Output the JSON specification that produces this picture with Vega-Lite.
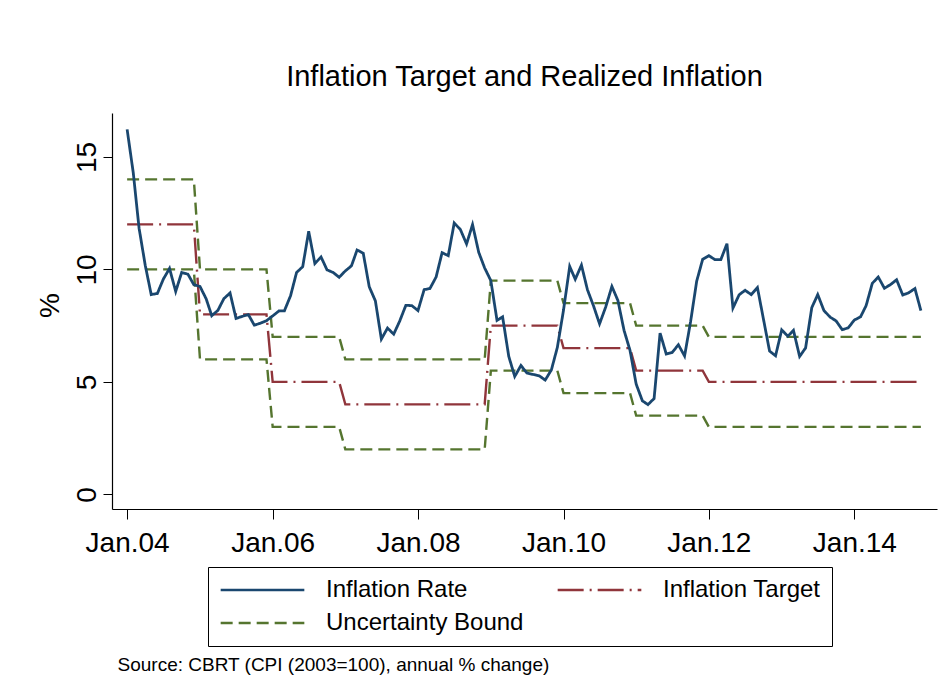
{
  "$schema": "https://vega.github.io/schema/vega-lite/v6.json",
  "width": 825,
  "height": 396,
  "autosize": {"type": "none"},
  "padding": {"left": 112, "top": 113, "right": 9, "bottom": 189},
  "background": "white",
  "config": {"font": "Liberation Sans", "view": {"stroke": null}},
  "title": {"text": "Inflation Target and Realized Inflation", "fontSize": 29, "fontWeight": "normal", "color": "black", "anchor": "middle", "frame": "group", "baseline": "alphabetic", "offset": 28, "dy": 30},
  "data": {"values": [
    {"d":"2004-01-01","v":16.22,"s":"Inflation Rate"},{"d":"2004-02-01","v":14.28,"s":"Inflation Rate"},{"d":"2004-03-01","v":11.83,"s":"Inflation Rate"},{"d":"2004-04-01","v":10.18,"s":"Inflation Rate"},{"d":"2004-05-01","v":8.88,"s":"Inflation Rate"},{"d":"2004-06-01","v":8.93,"s":"Inflation Rate"},{"d":"2004-07-01","v":9.57,"s":"Inflation Rate"},{"d":"2004-08-01","v":10.04,"s":"Inflation Rate"},{"d":"2004-09-01","v":9.02,"s":"Inflation Rate"},{"d":"2004-10-01","v":9.86,"s":"Inflation Rate"},{"d":"2004-11-01","v":9.79,"s":"Inflation Rate"},{"d":"2004-12-01","v":9.32,"s":"Inflation Rate"},
    {"d":"2005-01-01","v":9.24,"s":"Inflation Rate"},{"d":"2005-02-01","v":8.69,"s":"Inflation Rate"},{"d":"2005-03-01","v":7.94,"s":"Inflation Rate"},{"d":"2005-04-01","v":8.18,"s":"Inflation Rate"},{"d":"2005-05-01","v":8.70,"s":"Inflation Rate"},{"d":"2005-06-01","v":8.95,"s":"Inflation Rate"},{"d":"2005-07-01","v":7.82,"s":"Inflation Rate"},{"d":"2005-08-01","v":7.91,"s":"Inflation Rate"},{"d":"2005-09-01","v":7.99,"s":"Inflation Rate"},{"d":"2005-10-01","v":7.52,"s":"Inflation Rate"},{"d":"2005-11-01","v":7.61,"s":"Inflation Rate"},{"d":"2005-12-01","v":7.72,"s":"Inflation Rate"},
    {"d":"2006-01-01","v":7.93,"s":"Inflation Rate"},{"d":"2006-02-01","v":8.15,"s":"Inflation Rate"},{"d":"2006-03-01","v":8.16,"s":"Inflation Rate"},{"d":"2006-04-01","v":8.83,"s":"Inflation Rate"},{"d":"2006-05-01","v":9.86,"s":"Inflation Rate"},{"d":"2006-06-01","v":10.12,"s":"Inflation Rate"},{"d":"2006-07-01","v":11.69,"s":"Inflation Rate"},{"d":"2006-08-01","v":10.26,"s":"Inflation Rate"},{"d":"2006-09-01","v":10.55,"s":"Inflation Rate"},{"d":"2006-10-01","v":9.98,"s":"Inflation Rate"},{"d":"2006-11-01","v":9.86,"s":"Inflation Rate"},{"d":"2006-12-01","v":9.65,"s":"Inflation Rate"},
    {"d":"2007-01-01","v":9.93,"s":"Inflation Rate"},{"d":"2007-02-01","v":10.16,"s":"Inflation Rate"},{"d":"2007-03-01","v":10.86,"s":"Inflation Rate"},{"d":"2007-04-01","v":10.72,"s":"Inflation Rate"},{"d":"2007-05-01","v":9.23,"s":"Inflation Rate"},{"d":"2007-06-01","v":8.60,"s":"Inflation Rate"},{"d":"2007-07-01","v":6.90,"s":"Inflation Rate"},{"d":"2007-08-01","v":7.39,"s":"Inflation Rate"},{"d":"2007-09-01","v":7.12,"s":"Inflation Rate"},{"d":"2007-10-01","v":7.70,"s":"Inflation Rate"},{"d":"2007-11-01","v":8.40,"s":"Inflation Rate"},{"d":"2007-12-01","v":8.39,"s":"Inflation Rate"},
    {"d":"2008-01-01","v":8.17,"s":"Inflation Rate"},{"d":"2008-02-01","v":9.10,"s":"Inflation Rate"},{"d":"2008-03-01","v":9.15,"s":"Inflation Rate"},{"d":"2008-04-01","v":9.66,"s":"Inflation Rate"},{"d":"2008-05-01","v":10.74,"s":"Inflation Rate"},{"d":"2008-06-01","v":10.61,"s":"Inflation Rate"},{"d":"2008-07-01","v":12.06,"s":"Inflation Rate"},{"d":"2008-08-01","v":11.77,"s":"Inflation Rate"},{"d":"2008-09-01","v":11.13,"s":"Inflation Rate"},{"d":"2008-10-01","v":11.99,"s":"Inflation Rate"},{"d":"2008-11-01","v":10.76,"s":"Inflation Rate"},{"d":"2008-12-01","v":10.06,"s":"Inflation Rate"},
    {"d":"2009-01-01","v":9.50,"s":"Inflation Rate"},{"d":"2009-02-01","v":7.73,"s":"Inflation Rate"},{"d":"2009-03-01","v":7.89,"s":"Inflation Rate"},{"d":"2009-04-01","v":6.13,"s":"Inflation Rate"},{"d":"2009-05-01","v":5.24,"s":"Inflation Rate"},{"d":"2009-06-01","v":5.73,"s":"Inflation Rate"},{"d":"2009-07-01","v":5.39,"s":"Inflation Rate"},{"d":"2009-08-01","v":5.33,"s":"Inflation Rate"},{"d":"2009-09-01","v":5.27,"s":"Inflation Rate"},{"d":"2009-10-01","v":5.08,"s":"Inflation Rate"},{"d":"2009-11-01","v":5.53,"s":"Inflation Rate"},{"d":"2009-12-01","v":6.53,"s":"Inflation Rate"},
    {"d":"2010-01-01","v":8.19,"s":"Inflation Rate"},{"d":"2010-02-01","v":10.13,"s":"Inflation Rate"},{"d":"2010-03-01","v":9.56,"s":"Inflation Rate"},{"d":"2010-04-01","v":10.19,"s":"Inflation Rate"},{"d":"2010-05-01","v":9.10,"s":"Inflation Rate"},{"d":"2010-06-01","v":8.37,"s":"Inflation Rate"},{"d":"2010-07-01","v":7.58,"s":"Inflation Rate"},{"d":"2010-08-01","v":8.33,"s":"Inflation Rate"},{"d":"2010-09-01","v":9.24,"s":"Inflation Rate"},{"d":"2010-10-01","v":8.62,"s":"Inflation Rate"},{"d":"2010-11-01","v":7.29,"s":"Inflation Rate"},{"d":"2010-12-01","v":6.40,"s":"Inflation Rate"},
    {"d":"2011-01-01","v":4.90,"s":"Inflation Rate"},{"d":"2011-02-01","v":4.16,"s":"Inflation Rate"},{"d":"2011-03-01","v":3.99,"s":"Inflation Rate"},{"d":"2011-04-01","v":4.26,"s":"Inflation Rate"},{"d":"2011-05-01","v":7.17,"s":"Inflation Rate"},{"d":"2011-06-01","v":6.24,"s":"Inflation Rate"},{"d":"2011-07-01","v":6.31,"s":"Inflation Rate"},{"d":"2011-08-01","v":6.65,"s":"Inflation Rate"},{"d":"2011-09-01","v":6.15,"s":"Inflation Rate"},{"d":"2011-10-01","v":7.66,"s":"Inflation Rate"},{"d":"2011-11-01","v":9.48,"s":"Inflation Rate"},{"d":"2011-12-01","v":10.45,"s":"Inflation Rate"},
    {"d":"2012-01-01","v":10.61,"s":"Inflation Rate"},{"d":"2012-02-01","v":10.43,"s":"Inflation Rate"},{"d":"2012-03-01","v":10.43,"s":"Inflation Rate"},{"d":"2012-04-01","v":11.14,"s":"Inflation Rate"},{"d":"2012-05-01","v":8.28,"s":"Inflation Rate"},{"d":"2012-06-01","v":8.87,"s":"Inflation Rate"},{"d":"2012-07-01","v":9.07,"s":"Inflation Rate"},{"d":"2012-08-01","v":8.88,"s":"Inflation Rate"},{"d":"2012-09-01","v":9.19,"s":"Inflation Rate"},{"d":"2012-10-01","v":7.80,"s":"Inflation Rate"},{"d":"2012-11-01","v":6.37,"s":"Inflation Rate"},{"d":"2012-12-01","v":6.16,"s":"Inflation Rate"},
    {"d":"2013-01-01","v":7.31,"s":"Inflation Rate"},{"d":"2013-02-01","v":7.03,"s":"Inflation Rate"},{"d":"2013-03-01","v":7.29,"s":"Inflation Rate"},{"d":"2013-04-01","v":6.13,"s":"Inflation Rate"},{"d":"2013-05-01","v":6.51,"s":"Inflation Rate"},{"d":"2013-06-01","v":8.30,"s":"Inflation Rate"},{"d":"2013-07-01","v":8.88,"s":"Inflation Rate"},{"d":"2013-08-01","v":8.17,"s":"Inflation Rate"},{"d":"2013-09-01","v":7.88,"s":"Inflation Rate"},{"d":"2013-10-01","v":7.71,"s":"Inflation Rate"},{"d":"2013-11-01","v":7.32,"s":"Inflation Rate"},{"d":"2013-12-01","v":7.40,"s":"Inflation Rate"},
    {"d":"2014-01-01","v":7.75,"s":"Inflation Rate"},{"d":"2014-02-01","v":7.89,"s":"Inflation Rate"},{"d":"2014-03-01","v":8.39,"s":"Inflation Rate"},{"d":"2014-04-01","v":9.38,"s":"Inflation Rate"},{"d":"2014-05-01","v":9.66,"s":"Inflation Rate"},{"d":"2014-06-01","v":9.16,"s":"Inflation Rate"},{"d":"2014-07-01","v":9.32,"s":"Inflation Rate"},{"d":"2014-08-01","v":9.54,"s":"Inflation Rate"},{"d":"2014-09-01","v":8.86,"s":"Inflation Rate"},{"d":"2014-10-01","v":8.96,"s":"Inflation Rate"},{"d":"2014-11-01","v":9.15,"s":"Inflation Rate"},{"d":"2014-12-01","v":8.17,"s":"Inflation Rate"},

    {"d":"2004-01-01","v":12,"s":"Inflation Target","k":"target"},{"d":"2004-12-01","v":12,"s":"Inflation Target","k":"target"},
    {"d":"2005-01-01","v":8,"s":"Inflation Target","k":"target"},{"d":"2005-12-01","v":8,"s":"Inflation Target","k":"target"},
    {"d":"2006-01-01","v":5,"s":"Inflation Target","k":"target"},{"d":"2006-12-01","v":5,"s":"Inflation Target","k":"target"},
    {"d":"2007-01-01","v":4,"s":"Inflation Target","k":"target"},{"d":"2007-12-01","v":4,"s":"Inflation Target","k":"target"},
    {"d":"2008-01-01","v":4,"s":"Inflation Target","k":"target"},{"d":"2008-12-01","v":4,"s":"Inflation Target","k":"target"},
    {"d":"2009-01-01","v":7.5,"s":"Inflation Target","k":"target"},{"d":"2009-12-01","v":7.5,"s":"Inflation Target","k":"target"},
    {"d":"2010-01-01","v":6.5,"s":"Inflation Target","k":"target"},{"d":"2010-12-01","v":6.5,"s":"Inflation Target","k":"target"},
    {"d":"2011-01-01","v":5.5,"s":"Inflation Target","k":"target"},{"d":"2011-12-01","v":5.5,"s":"Inflation Target","k":"target"},
    {"d":"2012-01-01","v":5,"s":"Inflation Target","k":"target"},{"d":"2012-12-01","v":5,"s":"Inflation Target","k":"target"},
    {"d":"2013-01-01","v":5,"s":"Inflation Target","k":"target"},{"d":"2013-12-01","v":5,"s":"Inflation Target","k":"target"},
    {"d":"2014-01-01","v":5,"s":"Inflation Target","k":"target"},{"d":"2014-12-01","v":5,"s":"Inflation Target","k":"target"},

    {"d":"2004-01-01","v":14,"s":"Uncertainty Bound","k":"upper"},{"d":"2004-12-01","v":14,"s":"Uncertainty Bound","k":"upper"},
    {"d":"2005-01-01","v":10,"s":"Uncertainty Bound","k":"upper"},{"d":"2005-12-01","v":10,"s":"Uncertainty Bound","k":"upper"},
    {"d":"2006-01-01","v":7,"s":"Uncertainty Bound","k":"upper"},{"d":"2006-12-01","v":7,"s":"Uncertainty Bound","k":"upper"},
    {"d":"2007-01-01","v":6,"s":"Uncertainty Bound","k":"upper"},{"d":"2007-12-01","v":6,"s":"Uncertainty Bound","k":"upper"},
    {"d":"2008-01-01","v":6,"s":"Uncertainty Bound","k":"upper"},{"d":"2008-12-01","v":6,"s":"Uncertainty Bound","k":"upper"},
    {"d":"2009-01-01","v":9.5,"s":"Uncertainty Bound","k":"upper"},{"d":"2009-12-01","v":9.5,"s":"Uncertainty Bound","k":"upper"},
    {"d":"2010-01-01","v":8.5,"s":"Uncertainty Bound","k":"upper"},{"d":"2010-12-01","v":8.5,"s":"Uncertainty Bound","k":"upper"},
    {"d":"2011-01-01","v":7.5,"s":"Uncertainty Bound","k":"upper"},{"d":"2011-12-01","v":7.5,"s":"Uncertainty Bound","k":"upper"},
    {"d":"2012-01-01","v":7,"s":"Uncertainty Bound","k":"upper"},{"d":"2012-12-01","v":7,"s":"Uncertainty Bound","k":"upper"},
    {"d":"2013-01-01","v":7,"s":"Uncertainty Bound","k":"upper"},{"d":"2013-12-01","v":7,"s":"Uncertainty Bound","k":"upper"},
    {"d":"2014-01-01","v":7,"s":"Uncertainty Bound","k":"upper"},{"d":"2014-12-01","v":7,"s":"Uncertainty Bound","k":"upper"},

    {"d":"2004-01-01","v":10,"s":"Uncertainty Bound","k":"lower"},{"d":"2004-12-01","v":10,"s":"Uncertainty Bound","k":"lower"},
    {"d":"2005-01-01","v":6,"s":"Uncertainty Bound","k":"lower"},{"d":"2005-12-01","v":6,"s":"Uncertainty Bound","k":"lower"},
    {"d":"2006-01-01","v":3,"s":"Uncertainty Bound","k":"lower"},{"d":"2006-12-01","v":3,"s":"Uncertainty Bound","k":"lower"},
    {"d":"2007-01-01","v":2,"s":"Uncertainty Bound","k":"lower"},{"d":"2007-12-01","v":2,"s":"Uncertainty Bound","k":"lower"},
    {"d":"2008-01-01","v":2,"s":"Uncertainty Bound","k":"lower"},{"d":"2008-12-01","v":2,"s":"Uncertainty Bound","k":"lower"},
    {"d":"2009-01-01","v":5.5,"s":"Uncertainty Bound","k":"lower"},{"d":"2009-12-01","v":5.5,"s":"Uncertainty Bound","k":"lower"},
    {"d":"2010-01-01","v":4.5,"s":"Uncertainty Bound","k":"lower"},{"d":"2010-12-01","v":4.5,"s":"Uncertainty Bound","k":"lower"},
    {"d":"2011-01-01","v":3.5,"s":"Uncertainty Bound","k":"lower"},{"d":"2011-12-01","v":3.5,"s":"Uncertainty Bound","k":"lower"},
    {"d":"2012-01-01","v":3,"s":"Uncertainty Bound","k":"lower"},{"d":"2012-12-01","v":3,"s":"Uncertainty Bound","k":"lower"},
    {"d":"2013-01-01","v":3,"s":"Uncertainty Bound","k":"lower"},{"d":"2013-12-01","v":3,"s":"Uncertainty Bound","k":"lower"},
    {"d":"2014-01-01","v":3,"s":"Uncertainty Bound","k":"lower"},{"d":"2014-12-01","v":3,"s":"Uncertainty Bound","k":"lower"}
  ]},
  "encoding": {
    "x": {
      "field": "d", "type": "temporal",
      "scale": {"type": "utc", "domain": [{"year": 2003, "month": 10, "date": 17, "utc": true}, {"year": 2015, "month": 2, "date": 20, "utc": true}]},
      "axis": {
        "values": [
          {"year": 2004, "month": 1, "date": 1, "utc": true},
          {"year": 2006, "month": 1, "date": 1, "utc": true},
          {"year": 2008, "month": 1, "date": 1, "utc": true},
          {"year": 2010, "month": 1, "date": 1, "utc": true},
          {"year": 2012, "month": 1, "date": 1, "utc": true},
          {"year": 2014, "month": 1, "date": 1, "utc": true}
        ],
        "labelExpr": "utcFormat(datum.value, '%b') + '.' + utcFormat(datum.value, '%y')",
        "grid": false, "labelFontSize": 28, "labelColor": "black", "labelPadding": 10, "labelOverlap": false, "labelFlush": false,
        "tickSize": 10, "tickColor": "black", "tickWidth": 1, "domainColor": "black", "domainWidth": 1.2,
        "title": "Source: CBRT (CPI (2003=100), annual % change)",
        "titleFontSize": 19, "titleFontWeight": "normal", "titleColor": "black",
        "titleX": 5, "titleY": 161, "titleAlign": "left", "titleAnchor": "start", "titleBaseline": "alphabetic"
      }
    },
    "y": {
      "field": "v", "type": "quantitative",
      "scale": {"domain": [-0.65, 16.95], "nice": false, "zero": false},
      "axis": {
        "values": [0, 5, 10, 15], "grid": false,
        "labelAngle": -90, "labelAlign": "center", "labelBaseline": "alphabetic", "labelFontSize": 28, "labelColor": "black", "labelPadding": 8,
        "tickSize": 9, "tickColor": "black", "tickWidth": 1, "domainColor": "black", "domainWidth": 1.2,
        "title": "%", "titleFontSize": 28, "titleFontWeight": "normal", "titleColor": "black",
        "titleAngle": -90, "titleX": -62, "titleY": 192, "titleAlign": "center", "titleBaseline": "middle"
      }
    },
    "color": {
      "field": "s", "type": "nominal",
      "scale": {"domain": ["Inflation Rate", "Inflation Target", "Uncertainty Bound"], "range": ["#1a476f", "#90353b", "#55752f"]},
      "legend": {"title": null, "orient": "none", "legendX": 96, "legendY": 454, "direction": "horizontal", "columns": 2, "gridAlign": "each", "columnPadding": 32, "rowPadding": 9, "padding": 11, "strokeColor": "black", "symbolType": "stroke", "symbolSize": 7000, "symbolStrokeWidth": 2.5, "clipHeight": 24, "labelFontSize": 24, "labelColor": "black", "labelOffset": 20, "labelLimit": 400}
    },
    "strokeDash": {
      "field": "s", "type": "nominal",
      "scale": {"domain": ["Inflation Rate", "Inflation Target", "Uncertainty Bound"], "range": [[1, 0], [26, 6, 2, 6], [12, 6]]},
      "legend": {"title": null, "orient": "none", "legendX": 96, "legendY": 454, "direction": "horizontal", "columns": 2, "gridAlign": "each", "columnPadding": 32, "rowPadding": 9, "padding": 11, "strokeColor": "black", "symbolType": "stroke", "symbolSize": 7000, "symbolStrokeWidth": 2.5, "clipHeight": 24, "labelFontSize": 24, "labelColor": "black", "labelOffset": 20, "labelLimit": 400}
    },
    "detail": {"field": "k", "type": "nominal"}
  },
  "layer": [
    {"transform": [{"filter": "datum.s === 'Uncertainty Bound'"}], "mark": {"type": "line", "strokeWidth": 2.4}},
    {"transform": [{"filter": "datum.s === 'Inflation Target'"}], "mark": {"type": "line", "strokeWidth": 2.4}},
    {"transform": [{"filter": "datum.s === 'Inflation Rate'"}], "mark": {"type": "line", "strokeWidth": 2.8}}
  ]
}
